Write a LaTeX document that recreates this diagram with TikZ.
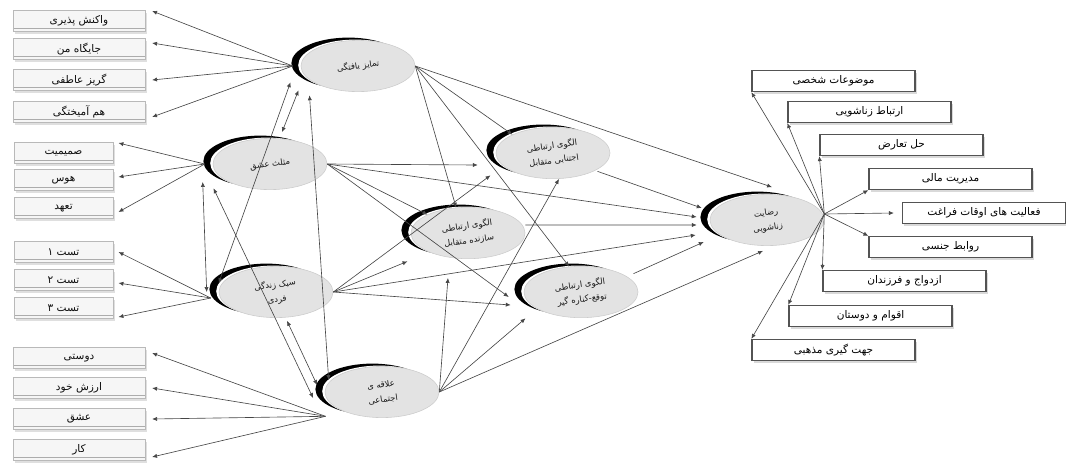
\documentclass[tikz,border=0pt]{standalone}
\usepackage{fontspec}
\newfontfamily\farsi[Script=Arabic]{DejaVu Sans}
\TeXXeTstate=1
\usetikzlibrary{arrows.meta,shapes.geometric,shadows,calc}
\newcommand{\fatxt}[1]{{\farsi\beginR#1\endR}}
\newcommand{\latlabel}[1]{\rotatebox{8}{\renewcommand{\arraystretch}{1.5}\begin{tabular}{@{}c@{}}#1\end{tabular}}}

\begin{document}
\begin{tikzpicture}[x=0.025cm, y=-0.025cm,
  latent/.style={ellipse, minimum width=2.85cm, minimum height=1.28cm, inner sep=0pt,
    fill=gray!22, draw=gray!40, text=gray!20!black, font=\fontsize{6}{7}\selectfont,
    general shadow={fill=black, shadow xshift=-0.24cm, shadow yshift=0.07cm},
    general shadow={fill=white, shadow xshift=-0.07cm, shadow yshift=0.02cm}},
  ibox/.style={rectangle, minimum height=0.525cm, inner sep=1pt, fill=gray!7, draw=gray!55,
    font=\fontsize{7.5}{8}\selectfont, text=gray!10!black,
    drop shadow={opacity=0.25, shadow xshift=0.05cm, shadow yshift=-0.05cm},
    path picture={\draw[gray!65] ([yshift=0.09cm]path picture bounding box.south west)
      -- ([yshift=0.09cm]path picture bounding box.south east);}},
  obox/.style={rectangle, minimum width=4.075cm, minimum height=0.525cm, inner sep=1pt,
    fill=white, draw=gray!65!black, line width=0.9pt, font=\fontsize{7.5}{8}\selectfont,
    drop shadow={opacity=0.3, shadow xshift=0.05cm, shadow yshift=-0.05cm}},
  path/.style={-{Latex[length=3.5pt,width=3pt]}, draw=gray!55!black, line width=0.45pt},
  cor/.style={{Latex[length=3.5pt,width=3pt]}-{Latex[length=3.5pt,width=3pt]}, draw=gray!55!black, line width=0.45pt}]
  \useasboundingbox (0,0) rectangle (1066,463);

  % latent variables
  \node[latent] (tamayoz) at (358,66) {\latlabel{\fatxt{تمایز یافتگی}}};
  \node[latent] (mosalas) at (270,164) {\latlabel{\fatxt{مثلث عشق}}};
  \node[latent] (sabk) at (276,292) {\latlabel{\fatxt{سبک زندگی}\\\fatxt{فردی}}};
  \node[latent] (alaghe) at (382,392) {\latlabel{\fatxt{علاقه ی}\\\fatxt{اجتماعی}}};
  \node[latent] (ejtenabi) at (553,153) {\latlabel{\fatxt{الگوی ارتباطی}\\\fatxt{اجتنابی متقابل}}};
  \node[latent] (sazande) at (468,233) {\latlabel{\fatxt{الگوی ارتباطی}\\\fatxt{سازنده متقابل}}};
  \node[latent] (tavagho) at (581,292) {\latlabel{\fatxt{الگوی ارتباطی}\\\fatxt{توقع-کناره گیر}}};
  \node[latent] (rezayat) at (767,220) {\latlabel{\fatxt{رضایت}\\\fatxt{زناشویی}}};

  % indicators on the left
  \foreach \n/\y/\t in {wak/21/واکنش پذیری, jay/49/جایگاه من, goriz/80/گریز عاطفی, ham/112/هم آمیختگی,
      dust/358/دوستی, arzesh/388/ارزش خود, eshgh/419/عشق, kar/450/کار}
    \node[ibox, minimum width=3.3cm] (\n) at (79,\y) {\fatxt{\t}};
  \foreach \n/\y/\t in {sam/153/صمیمیت, haws/180/هوس, tahod/208/تعهد,
      test1/252/تست ۱, test2/280/تست ۲, test3/308/تست ۳}
    \node[ibox, minimum width=2.475cm] (\n) at (63.5,\y) {\fatxt{\t}};

  % indicators on the right
  \foreach \n/\x/\y/\t in {mozu/833.5/81/موضوعات شخصی, ertebat/869.5/112/ارتباط زناشویی,
      hal/901.5/145/حل تعارض, modir/950.5/179/مدیریت مالی, faraghat/984/213/فعالیت های اوقات فراغت,
      ravabet/950.5/247/روابط جنسی, ezdevaj/904.5/281/ازدواج و فرزندان,
      aghvam/870.5/316/اقوام و دوستان, jahat/833.5/350/جهت گیری مذهبی}
    \node[obox] (\n) at (\x,\y) {\fatxt{\t}};

  % fan points
  \coordinate (thub) at ([xshift=-0.2cm]tamayoz.west);
  \coordinate (mhub) at ([xshift=-0.2cm]mosalas.west);
  \coordinate (shub) at ([shift={(-0.2cm,-0.15cm)}]sabk.west);
  \coordinate (ahub) at ([shift={(-0.4cm,-0.15cm)}]alaghe.south west);
  \coordinate (rhub) at ([yshift=0.15cm]rezayat.east);

  % measurement arrows
  \foreach \b/\dy in {wak/0.25, jay/0.15, goriz/0, ham/-0.125}
    \draw[path] (thub) -- ([shift={(0.17cm,\dy cm)}]\b.east);
  \foreach \b/\dy in {sam/0.25, haws/0.075, tahod/-0.1}
    \draw[path] (mhub) -- ([shift={(0.13cm,\dy cm)}]\b.east);
  \foreach \b/\dy in {test1/0, test2/-0.075, test3/-0.225}
    \draw[path] (shub) -- ([shift={(0.13cm,\dy cm)}]\b.east);
  \foreach \b/\dy in {dust/0.125, arzesh/0, eshgh/0, kar/-0.175}
    \draw[path] (ahub) -- ([shift={(0.17cm,\dy cm)}]\b.east);
  \foreach \b/\a in {mozu/south west, ertebat/south west, hal/south west, modir/south west,
      ravabet/north west, ezdevaj/north west, aghvam/north west, jahat/north west}
    \draw[path] (rhub) -- (\b.\a);
  \draw[path] (rhub) -- ([xshift=-0.2cm]faraghat.west);

  % correlations between exogenous variables
  \draw[cor] ([shift={(-0.475cm,-0.15cm)}]tamayoz.south west) -- ([shift={(0.3cm,0.15cm)}]mosalas.north);
  \draw[cor] ([shift={(-0.675cm,0.05cm)}]tamayoz.south west) -- ([yshift=0.225cm]sabk.west);
  \draw[cor] ([shift={(-0.2cm,-0.275cm)}]tamayoz.south west) -- ([shift={(0.1cm,0.3cm)}]alaghe.west);
  \draw[cor] ([shift={(-0.25cm,-0.45cm)}]mosalas.west) -- ([xshift=-0.3cm]sabk.west);
  \draw[cor] ([shift={(-0.4cm,-0.15cm)}]mosalas.south west) -- ([shift={(-0.29cm,-0.15cm)}]alaghe.west);
  \draw[cor] ([shift={(0.275cm,-0.075cm)}]sabk.south) -- ([shift={(-0.19cm,0.175cm)}]alaghe.west);

  % structural paths
  \draw[path] (tamayoz.east) -- (ejtenabi.north west);
  \draw[path] (tamayoz.east) -- (sazande.115);
  \draw[path] (tamayoz.east) -- (tavagho.115);
  \draw[path] (tamayoz.east) -- ([shift={(0.125cm,0.175cm)}]rezayat.north);
  \draw[path] (mosalas.east) -- ([shift={(-0.45cm,-0.3cm)}]ejtenabi.west);
  \draw[path] (mosalas.east) -- (sazande.north west);
  \draw[path] (mosalas.east) -- ([shift={(-0.375cm,-0.125cm)}]tavagho.west);
  \draw[path] (mosalas.east) -- ([shift={(-0.325cm,0.075cm)}]rezayat.west);
  \draw[path] (sabk.east) -- ([shift={(-0.55cm,-0.1cm)}]ejtenabi.south west);
  \draw[path] (sabk.east) -- ([shift={(-0.5cm,-0.25cm)}]sazande.south west);
  \draw[path] (sabk.east) -- ([shift={(-0.325cm,-0.325cm)}]tavagho.west);
  \draw[path] (sabk.east) -- ([shift={(-0.35cm,-0.375cm)}]rezayat.west);
  \draw[path] (alaghe.east) -- ([xshift=0.15cm]ejtenabi.south);
  \draw[path] (alaghe.east) -- ([shift={(-0.5cm,-0.475cm)}]sazande.south);
  \draw[path] (alaghe.east) -- ([shift={(-0.375cm,-0.2cm)}]tavagho.south west);
  \draw[path] (alaghe.east) -- ([shift={(-0.1cm,-0.125cm)}]rezayat.south);
  \draw[path] ([xshift=0.1cm]ejtenabi.south east) -- ([shift={(-0.2cm,0.3cm)}]rezayat.west);
  \draw[path] ([yshift=0.2cm]sazande.east) -- ([shift={(-0.325cm,-0.125cm)}]rezayat.west);
  \draw[path] ([xshift=0.3cm]tavagho.north east) -- ([shift={(-0.15cm,-0.55cm)}]rezayat.west);
\end{tikzpicture}
\end{document}
